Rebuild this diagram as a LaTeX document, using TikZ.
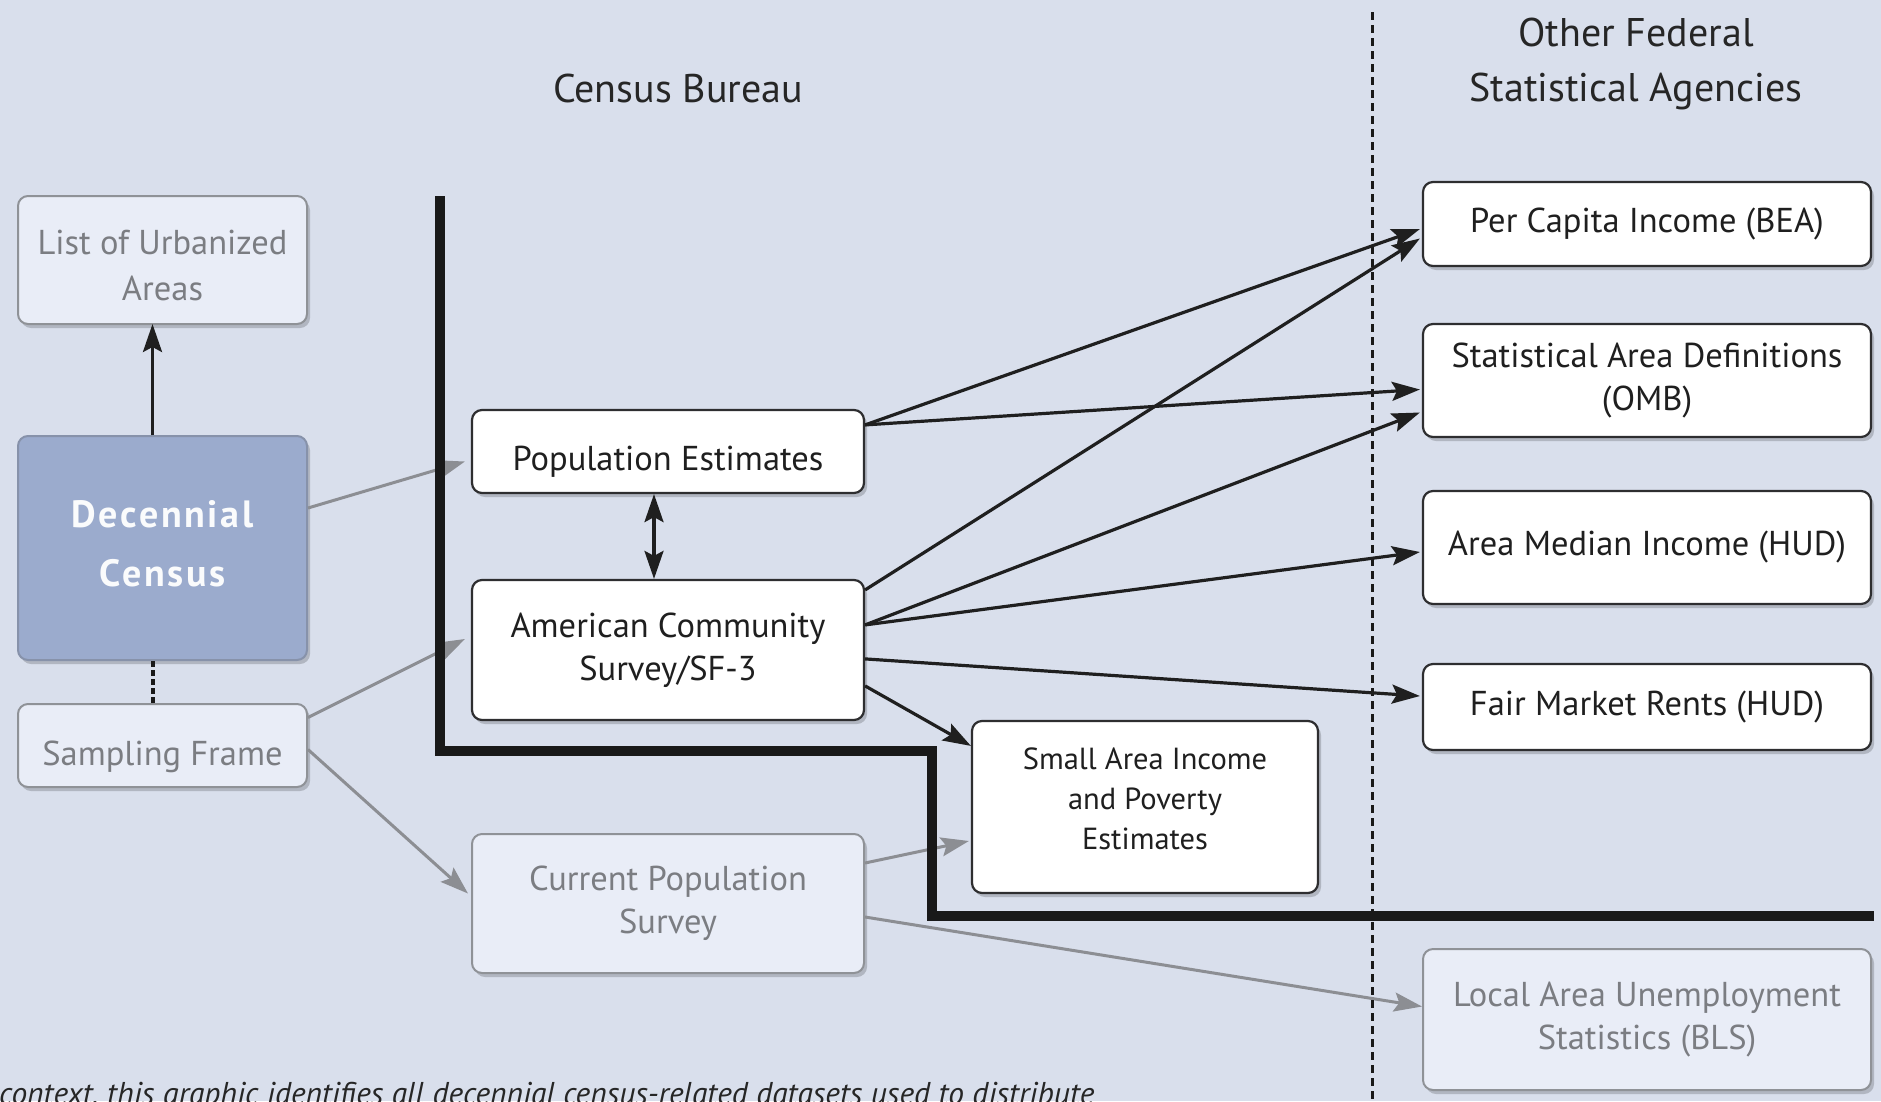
\documentclass[tikz,border=0pt]{standalone}
\usepackage{fontspec}
\setmainfont{PT Sans}
\usetikzlibrary{arrows.meta,calc,shadows}
\definecolor{bg}{HTML}{D9DFEC}
\definecolor{decfill}{HTML}{9BABCD}
\definecolor{decline}{HTML}{8792AA}
\definecolor{fadefill}{HTML}{E9EDF7}
\definecolor{fadeline}{HTML}{8F9297}
\definecolor{fadetext}{HTML}{7B7D82}
\definecolor{arrgray}{HTML}{8C8E93}
\definecolor{boxline}{HTML}{2E2E30}
\tikzset{
  tip/.tip={Stealth[length=28pt,width=19pt,inset=5pt]},
  shad/.style={drop shadow={shadow xshift=3pt,shadow yshift=-4pt,opacity=0.18,fill=black}},
  wbox/.style={draw=boxline, line width=2.2pt, fill=white, rounded corners=10pt, align=center,
    inner sep=0pt, font=\fontsize{34.5}{43}\selectfont, text=black!88, shad},
  fbox/.style={draw=fadeline, line width=2pt, fill=fadefill, rounded corners=10pt, align=center,
    inner sep=0pt, font=\fontsize{34.5}{43}\selectfont, text=fadetext, shad},
  dbox/.style={draw=decline, line width=2pt, fill=decfill, rounded corners=10pt, align=center,
    inner sep=0pt, font=\fontsize{38}{59}\selectfont\bfseries\addfontfeature{LetterSpace=7}, text=white!95!decfill, shad},
  ttl/.style={align=center, font=\fontsize{40}{55}\selectfont, text=black!85},
  blk/.style={line width=3.2pt, draw=black!88, -tip},
  gry/.style={line width=3pt, draw=arrgray, -tip},
}
\begin{document}
\begin{tikzpicture}[x=1pt,y=-1pt]
\useasboundingbox (0,0) rectangle (1881,1101);
\clip (0,0) rectangle (1881,1101);
\fill[bg] (0,0) rectangle (1881,1101);

% titles
\node[ttl] (tcb) at (678,88) {Census Bureau};
\node[ttl] (tof) at (1636,64) {Other Federal\\Statistical Agencies};

% left column
\node[fbox, minimum width=289pt, minimum height=128pt, font=\fontsize{34.5}{46}\selectfont] (urb) at (162.5,260) {\rule{0pt}{36pt}List of Urbanized\\Areas};
\node[dbox, minimum width=289pt, minimum height=224pt] (dec) at (162.5,548) {Decennial\\Census\rule[-10pt]{0pt}{10pt}};
\node[fbox, minimum width=289pt, minimum height=83pt] (samp) at (162.5,745.5) {\rule{0pt}{47pt}Sampling Frame};

% middle column
\node[wbox, minimum width=392pt, minimum height=83pt] (pop) at (668,451.5) {\rule{0pt}{45pt}Population Estimates};
\node[wbox, minimum width=392pt, minimum height=140pt] (acs) at (668,650) {American Community\\Survey/SF-3};
\node[fbox, minimum width=392pt, minimum height=139pt] (cps) at (668,903.5) {Current Population\\Survey};
\node[wbox, minimum width=346pt, minimum height=172pt, font=\fontsize{30.5}{40}\selectfont] (saipe) at (1145,807) {Small Area Income\\and Poverty\\Estimates\rule[-16pt]{0pt}{16pt}};

% right column
\node[wbox, minimum width=448pt, minimum height=84pt] (bea) at (1647,224) {Per Capita Income (BEA)};
\node[wbox, minimum width=448pt, minimum height=113pt] (omb) at (1647,380.5) {Statistical Area Definitions\\(OMB)};
\node[wbox, minimum width=448pt, minimum height=113pt] (ami) at (1647,547.5) {Area Median Income (HUD)};
\node[wbox, minimum width=448pt, minimum height=86pt] (fmr) at (1647,707) {Fair Market Rents (HUD)};
\node[fbox, minimum width=448pt, minimum height=141pt] (laus) at (1647,1019.5) {Local Area Unemployment\\Statistics (BLS)};

% gray connectors
\draw[gry] ($(dec.east)+(0,-40)$) -- ($(pop.west)+(-6,10)$);
\draw[gry] ($(samp.east)+(0,-28)$) -- ($(acs.west)+(-6,-11)$);
\draw[gry] ($(samp.east)+(0,4)$) -- ($(cps.west)+(-3,-10)$);
\draw[gry] ($(cps.north east)+(0,30)$) -- ($(saipe.west)+(-2,34)$);
\draw[gry] ($(cps.north east)+(0,84)$) -- ($(laus.west)+(0,-13)$);

% thick boundary
\draw[line width=10pt, black!90] (440,196) |- (932,751) |- (1874,916);

% dotted divider
\draw[line width=3pt, black!90, dash pattern=on 8pt off 5pt] (1372,12) -- (1372,1101);

% black connectors
\draw[blk] ($(dec.north)+(-10,0)$) -- ($(urb.south)+(-10,-1)$);
\draw[line width=4pt, black!90, dash pattern=on 6pt off 3pt] ($(dec.south)+(-10,0)$) -- ($(samp.north)+(-10,0)$);
\draw[blk, tip-tip] ($(pop.south)+(-14,0)$) -- ($(acs.north)+(-14,0)$);
\coordinate (P1) at ($(pop.north east)+(0,16)$);
\coordinate (A1) at ($(acs.north east)+(0,11)$);
\coordinate (A2) at ($(acs.north east)+(0,46)$);
\coordinate (A3) at ($(acs.north east)+(0,80)$);
\coordinate (A4) at ($(acs.north east)+(0,107)$);
\draw[blk] (P1) -- ($(bea.west)+(-2,5)$);
\draw[blk] (P1) -- ($(omb.west)+(-2,9)$);
\draw[blk] (A1) -- ($(bea.west)+(-2,14.5)$);
\draw[blk] (A2) -- ($(omb.west)+(-2,32)$);
\draw[blk] (A2) -- ($(ami.west)+(-2,4.5)$);
\draw[blk] (A3) -- ($(fmr.west)+(-2,-11)$);
\draw[blk] (A4) -- ($(saipe.north west)+(0,26)$);

% cut-off caption
\node[anchor=base west, inner sep=0pt, font=\fontsize{31.5}{34}\selectfont\itshape, text=black!85] (cap) at (-1,1104) {context, this graphic identifies all decennial census-related datasets used to distribute};
\end{tikzpicture}
\end{document}
